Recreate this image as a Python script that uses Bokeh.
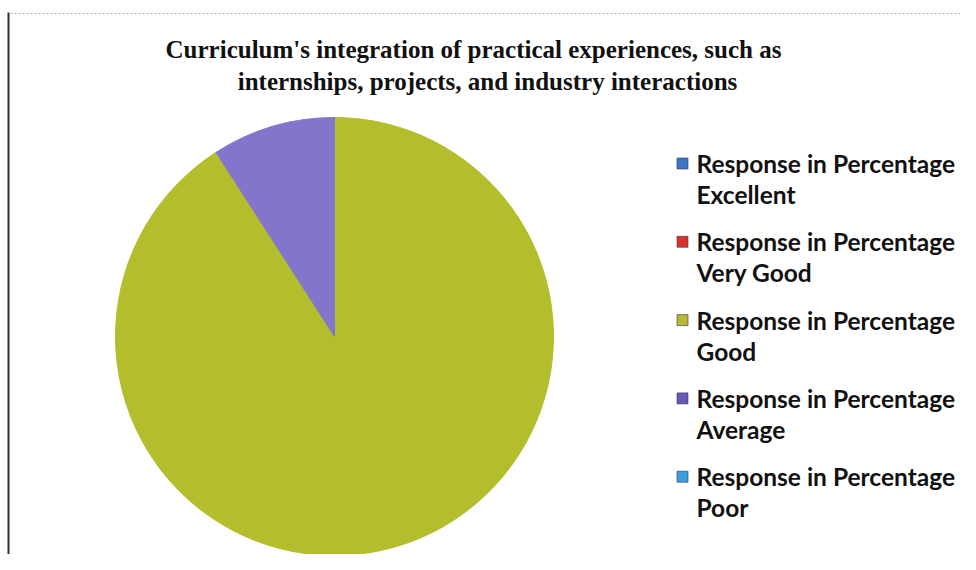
from bokeh.plotting import figure
from bokeh.models import Range1d, Label, ColumnDataSource
from bokeh.core.properties import value
from bokeh.embed import file_html
from bokeh.resources import INLINE
import math

# ---- data ----
categories = ["Excellent", "Very Good", "Good", "Average", "Poor"]
percentages = [0, 0, 90.9, 9.1, 0]
slice_colors = ["#3b78c4", "#d9322e", "#b4bd2b", "#8475cc", "#3a9fd8"]
legend_colors = ["#3b78c4", "#d9322e", "#b8b832", "#6a58b4", "#3a9fd8"]
series_name = "Response in Percentage"
title_lines = ["Curriculum's integration of practical experiences, such as",
               "internships, projects, and industry interactions"]

W, H = 960, 554
p = figure(width=W, height=H, x_range=Range1d(0, W), y_range=Range1d(0, H),
           output_backend="svg", toolbar_location=None, min_border=0)
p.axis.visible = False
p.grid.visible = False
p.outline_line_color = None
p.background_fill_color = "white"
p.border_fill_color = "white"

def Y(py):
    return H - py

def X(px):
    return px

# frame lines (scan border)
p.line([X(8), X(8)], [Y(12), Y(570)], line_color="#3a2a2a", line_width=2)
p.line([X(10), X(976)], [Y(13), Y(13)], line_color="#b8b0b0", line_width=1, line_dash="2 2")

# ---- pie ----
total = sum(percentages)
starts, ends, cols = [], [], []
cum = 0.0
for v, c in zip(percentages, slice_colors):
    a0 = math.pi / 2 - cum / total * 2 * math.pi
    cum += v
    a1 = math.pi / 2 - cum / total * 2 * math.pi
    if v > 0:
        starts.append(a0); ends.append(a1); cols.append(c)
src = ColumnDataSource(dict(x=[X(334)] * len(starts), y=[Y(336)] * len(starts),
                            start=starts, end=ends, color=cols))
p.wedge(x="x", y="y", radius=219, radius_units="screen", start_angle="start",
        end_angle="end", direction="clock", fill_color="color",
        line_color="color", line_width=1, source=src)

# ---- legend ----
ly0 = 163
step = 78.3
lsrc = ColumnDataSource(dict(
    x=[X(682)] * len(categories),
    y=[Y(ly0 + i * step) for i in range(len(categories))],
    y2=[Y(ly0 + i * step + 31) for i in range(len(categories))],
    tx=[X(696)] * len(categories),
    name=[series_name] * len(categories),
    cat=categories,
    color=legend_colors))
p.scatter(x="x", y="y", marker="square", size=11, fill_color="color",
          line_color="#333366", line_width=0.6, source=lsrc)
p.text(x="tx", y="y", text="name", text_font=value("Lato"), text_font_style="bold",
       text_font_size="24.5px", text_baseline="middle", text_color="#111111", source=lsrc)
p.text(x="tx", y="y2", text="cat", text_font=value("Lato"), text_font_style="bold",
       text_font_size="24.5px", text_baseline="middle", text_color="#111111", source=lsrc)

# ---- title ----
title_x = [473, 487]
for i, t in enumerate(title_lines):
    p.add_layout(Label(x=X(title_x[i]), y=Y(49 + i * 32), text=t, text_align="center",
                       text_baseline="middle", text_font="Liberation Serif",
                       text_font_style="bold", text_font_size="25px",
                       text_color="#111111"))

open("out.html", "w").write(file_html(p, INLINE))
